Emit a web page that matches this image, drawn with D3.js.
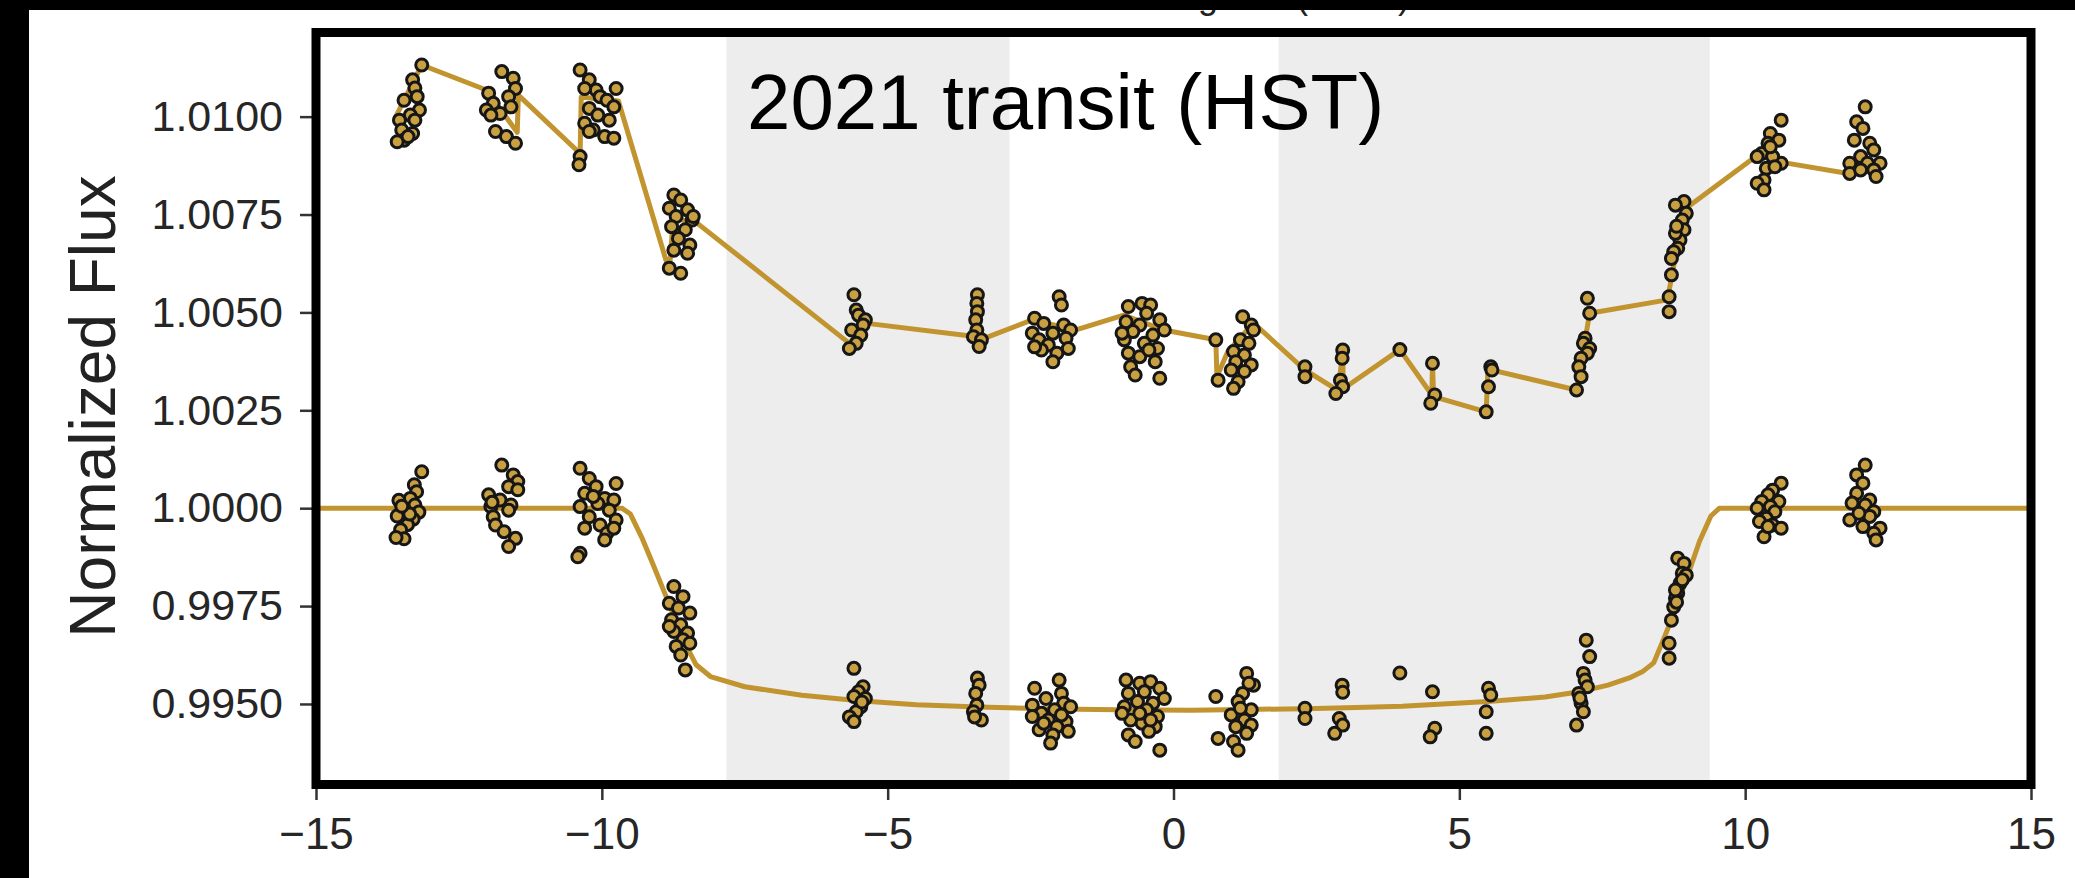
<!DOCTYPE html>
<html>
<head>
<meta charset="utf-8">
<script src="https://cdn.jsdelivr.net/npm/d3@7"></script>
<style>
    body { margin: 0; background: #fff; }
    svg { display: block; font-family: "Liberation Sans", Arial, Helvetica, sans-serif; }
</style>
</head>
<body>
<div id="chart"></div>
<script>

var xTicks = [-15, -10, -5, 0, 5, 10, 15];
var yTicks = [0.9950, 0.9975, 1.0000, 1.0025, 1.0050, 1.0075, 1.0100];

// shaded HST orbit windows (hours)
var bands = [[-7.82, -2.87], [1.84, 9.38]];

// transit model (lower curve)
var modelCurve = [
    [-15, 1.0], [-9.65, 1.0], [-9.5, 0.99985], [-9.3, 0.99925], [-9.1, 0.99855],
    [-8.9, 0.99783], [-8.7, 0.99712], [-8.5, 0.99642], [-8.35, 0.99600], [-8.1, 0.99570],
    [-7.5, 0.99544], [-6.5, 0.99522], [-5.5, 0.99508], [-4.5, 0.99498], [-3.4, 0.99492],
    [-2.0, 0.99487], [-1.0, 0.99485], [0.3, 0.99484], [1.3, 0.99486], [2.3, 0.99488],
    [3.2, 0.99491], [4.0, 0.99494], [5.5, 0.99506], [6.5, 0.99518], [7.1, 0.99531],
    [7.6, 0.99548], [8.0, 0.99568], [8.2, 0.99582], [8.4, 0.99605], [8.6, 0.99675],
    [8.8, 0.99750], [9.0, 0.99830], [9.2, 0.99915], [9.4, 0.99980], [9.55, 1.0], [15, 1.0]
];

// systematics + transit model (upper curve)
var systLine = [
    [-13.62, 1.00995], [-13.15, 1.01132], [-12.02, 1.01068], [-11.48, 1.00960], [-11.46, 1.01055],
    [-10.38, 1.00906], [-10.36, 1.01050], [-9.71, 1.01040], [-8.82, 1.00605], [-8.75, 1.00740],
    [-8.35, 1.00730], [-5.67, 1.00421], [-5.36, 1.00472], [-3.44, 1.00438], [-3.38, 1.00430],
    [-2.47, 1.00481], [-1.72, 1.00455], [-0.87, 1.00493], [-0.17, 1.00455], [0.74, 1.00430],
    [0.76, 1.00336], [0.95, 1.00400], [1.40, 1.00473], [2.30, 1.00353], [2.88, 1.00300],
    [2.96, 1.00400], [2.97, 1.00305], [3.96, 1.00405], [4.52, 1.00289], [4.53, 1.00370],
    [4.55, 1.00285], [5.47, 1.00246], [5.50, 1.00355], [7.05, 1.00302], [7.28, 1.00498],
    [8.64, 1.00532], [8.93, 1.00762], [10.22, 1.00902], [10.70, 1.00882], [11.80, 1.00855],
    [12.30, 1.00880]
];

// raw (offset) data points
var rawPoints = [
    [-13.15,1.01132],[-13.31,1.01094],[-13.27,1.01073],[-13.23,1.01051],[-13.46,1.01042],[-13.19,1.01017],[-13.35,1.01004],
    [-13.54,1.00991],[-13.27,1.00991],[-13.50,1.00966],[-13.31,1.00957],[-13.46,1.00940],[-13.58,1.00936],[-13.39,1.00949],
    [-11.75,1.01115],[-11.55,1.01098],[-11.51,1.01072],[-11.98,1.01060],[-11.63,1.01051],[-11.90,1.01034],[-11.59,1.01025],
    [-12.02,1.01017],[-11.78,1.01008],[-11.86,1.00962],[-11.67,1.00949],[-11.51,1.00932],[-11.94,1.01004],
    [-10.38,1.01119],[-10.22,1.01094],[-10.10,1.01068],[-10.30,1.01072],[-10.03,1.01051],[-9.75,1.01072],[-9.91,1.01042],
    [-9.79,1.01025],[-10.22,1.01021],[-10.07,1.01004],[-10.30,1.00983],[-9.87,1.00991],[-10.15,1.00966],[-9.95,1.00949],
    [-9.79,1.00945],[-10.22,1.00962],[-10.38,1.00898],[-10.40,1.00877],
    [-8.74,1.00800],[-8.62,1.00787],[-8.82,1.00766],[-8.50,1.00762],[-8.70,1.00745],[-8.42,1.00736],[-8.78,1.00719],
    [-8.54,1.00711],[-8.66,1.00689],[-8.46,1.00672],[-8.74,1.00659],[-8.50,1.00651],[-8.82,1.00613],[-8.62,1.00600],[-8.40,1.00745],
    [-5.59,1.00545],[-5.55,1.00506],[-5.51,1.00493],[-5.39,1.00481],[-5.43,1.00468],[-5.63,1.00455],[-5.47,1.00442],[-5.55,1.00421],[-5.67,1.00408],
    [-3.43,1.00545],[-3.44,1.00523],[-3.43,1.00502],[-3.46,1.00481],[-3.44,1.00455],[-3.50,1.00438],[-3.36,1.00430],[-3.40,1.00413],
    [-2.00,1.00540],[-1.96,1.00519],[-2.43,1.00485],[-2.27,1.00472],[-1.92,1.00468],[-1.80,1.00455],[-2.47,1.00447],[-2.11,1.00447],
    [-2.35,1.00430],[-1.88,1.00434],[-2.19,1.00417],[-1.84,1.00408],[-2.04,1.00396],[-2.11,1.00374],[-2.31,1.00404],[-2.43,1.00412],
    [-0.79,1.00515],[-0.55,1.00523],[-0.40,1.00519],[-0.47,1.00498],[-0.24,1.00481],[-0.83,1.00476],[-0.59,1.00468],[-0.16,1.00455],
    [-0.71,1.00451],[-0.36,1.00442],[-0.86,1.00430],[-0.51,1.00421],[-0.28,1.00408],[-0.79,1.00396],[-0.59,1.00387],[-0.32,1.00374],
    [-0.75,1.00361],[-0.24,1.00332],[-0.67,1.00340],[-0.43,1.00404],[-0.90,1.00447],
    [1.21,1.00489],[1.36,1.00468],[0.74,1.00430],[1.17,1.00430],[1.32,1.00421],[1.05,1.00400],[1.24,1.00391],[1.09,1.00374],
    [1.36,1.00366],[1.01,1.00353],[1.24,1.00349],[0.78,1.00327],[1.13,1.00323],[1.05,1.00306],[1.40,1.00455],
    [2.30,1.00361],[2.30,1.00336],
    [2.96,1.00404],[2.95,1.00383],[2.92,1.00327],[2.96,1.00310],[2.84,1.00293],
    [3.96,1.00405],
    [4.53,1.00370],[4.57,1.00289],[4.50,1.00268],
    [5.55,1.00361],[5.57,1.00353],[5.51,1.00310],[5.47,1.00246],
    [7.24,1.00536],[7.28,1.00498],[7.20,1.00434],[7.17,1.00421],[7.28,1.00408],[7.24,1.00396],[7.13,1.00383],[7.09,1.00361],
    [7.13,1.00336],[7.05,1.00302],
    [8.93,1.00783],[8.78,1.00774],[8.97,1.00753],[8.90,1.00736],[8.93,1.00711],[8.86,1.00685],[8.82,1.00664],[8.75,1.00655],
    [8.71,1.00638],[8.71,1.00596],[8.67,1.00540],[8.67,1.00502],[8.78,1.00702],[8.80,1.00720],
    [10.63,1.00991],[10.44,1.00957],[10.59,1.00940],[10.40,1.00932],[10.29,1.00906],[10.63,1.00881],[10.48,1.00898],[10.21,1.00898],
    [10.37,1.00868],[10.52,1.00872],[10.33,1.00838],[10.21,1.00830],[10.33,1.00813],[10.44,1.00923],
    [12.10,1.01025],[11.95,1.00987],[12.06,1.00970],[11.91,1.00940],[12.18,1.00932],[12.25,1.00915],[12.02,1.00898],[11.83,1.00881],
    [12.14,1.00881],[12.36,1.00881],[12.25,1.00864],[11.83,1.00855],[12.02,1.00864],[12.29,1.00847]
];

// detrended data points
var detPoints = [
    [-13.15,1.00093],[-13.28,1.00060],[-13.24,1.00042],[-13.35,1.00025],[-13.55,1.00020],[-13.27,1.00008],[-13.45,0.99996],[-13.20,0.99990],
    [-13.58,0.99980],[-13.30,0.99972],[-13.40,0.99958],[-13.52,0.99945],[-13.46,0.99922],[-13.60,0.99925],[-13.36,0.99985],[-13.50,1.00005],
    [-11.75,1.00110],[-11.55,1.00085],[-11.47,1.00068],[-11.63,1.00055],[-11.98,1.00034],[-11.47,1.00047],[-11.78,1.00021],[-11.94,1.00004],
    [-11.59,1.00008],[-11.90,0.99978],[-11.63,0.99995],[-11.86,0.99957],[-11.71,0.99940],[-11.51,0.99923],[-11.63,0.99902],[-11.92,1.00015],
    [-10.38,1.00102],[-10.22,1.00076],[-10.10,1.00055],[-10.30,1.00038],[-9.95,1.00025],[-10.07,1.00012],[-9.75,1.00063],[-9.79,1.00021],
    [-10.38,1.00004],[-9.87,0.99995],[-10.22,0.99978],[-9.75,0.99970],[-10.03,0.99957],[-10.30,0.99949],[-9.91,0.99936],[-9.79,0.99949],
    [-9.95,0.99919],[-10.38,0.99885],[-10.42,0.99876],[-10.15,1.00030],
    [-8.74,0.99800],[-8.58,0.99774],[-8.82,0.99757],[-8.66,0.99745],[-8.46,0.99732],[-8.78,0.99715],[-8.62,0.99702],[-8.74,0.99685],
    [-8.50,0.99681],[-8.58,0.99664],[-8.70,0.99647],[-8.46,0.99655],[-8.62,0.99625],[-8.54,0.99587],[-8.82,0.99698],
    [-5.59,0.99591],[-5.43,0.99544],[-5.51,0.99531],[-5.39,0.99514],[-5.59,0.99519],[-5.47,0.99493],[-5.55,0.99480],[-5.67,0.99467],
    [-5.59,0.99455],[-5.45,0.99505],
    [-3.43,0.99566],[-3.40,0.99548],[-3.46,0.99527],[-3.44,0.99497],[-3.50,0.99480],[-3.36,0.99459],[-3.48,0.99467],
    [-2.43,0.99540],[-2.00,0.99561],[-1.96,0.99527],[-2.23,0.99514],[-1.92,0.99502],[-2.47,0.99497],[-2.08,0.99485],[-1.80,0.99493],
    [-2.31,0.99476],[-2.19,0.99459],[-1.88,0.99455],[-2.04,0.99442],[-2.35,0.99434],[-2.11,0.99421],[-1.84,0.99430],[-2.15,0.99400],
    [-2.27,0.99451],[-2.47,0.99468],[-1.96,0.99472],
    [-0.83,0.99561],[-0.59,0.99553],[-0.40,0.99557],[-0.24,0.99540],[-0.79,0.99527],[-0.51,0.99531],[-0.16,0.99514],[-0.63,0.99506],
    [-0.36,0.99502],[-0.86,0.99493],[-0.47,0.99485],[-0.28,0.99468],[-0.75,0.99459],[-0.55,0.99451],[-0.32,0.99442],[-0.43,0.99430],
    [-0.79,0.99421],[-0.67,0.99404],[-0.24,0.99382],[-0.90,0.99476],[-0.40,0.99459],[-0.59,0.99476],
    [0.74,0.99519],[1.28,0.99578],[1.40,0.99548],[1.21,0.99527],[1.13,0.99506],[1.36,0.99485],[1.01,0.99472],[1.24,0.99459],
    [1.09,0.99442],[1.36,0.99446],[0.78,0.99412],[1.05,0.99404],[1.13,0.99382],[1.28,0.99425],[1.17,0.99489],[1.32,0.99553],
    [2.30,0.99489],[2.30,0.99463],
    [2.95,0.99548],[2.96,0.99530],[2.90,0.99463],[2.96,0.99446],[2.82,0.99425],
    [3.96,0.99579],
    [4.53,0.99531],[4.57,0.99438],[4.49,0.99416],
    [5.51,0.99540],[5.55,0.99523],[5.47,0.99480],[5.47,0.99425],
    [7.22,0.99663],[7.28,0.99621],[7.17,0.99578],[7.20,0.99561],[7.24,0.99544],[7.09,0.99527],[7.13,0.99502],[7.17,0.99480],
    [7.05,0.99446],[7.11,0.99515],
    [8.82,0.99872],[8.93,0.99859],[8.90,0.99834],[8.97,0.99829],[8.86,0.99808],[8.82,0.99783],[8.78,0.99770],[8.75,0.99748],
    [8.71,0.99714],[8.67,0.99655],[8.67,0.99617],[8.78,0.99791],[8.90,0.99817],[8.80,0.99760],
    [10.63,1.00064],[10.48,1.00046],[10.40,1.00034],[10.29,1.00017],[10.59,1.00017],[10.44,1.00004],[10.21,1.00000],[10.52,0.99991],
    [10.37,0.99974],[10.25,0.99966],[10.48,0.99957],[10.63,0.99949],[10.33,0.99927],[10.40,0.99953],
    [12.10,1.00110],[11.95,1.00085],[12.06,1.00064],[11.95,1.00038],[12.18,1.00021],[11.87,1.00013],[12.10,1.00008],[12.25,0.99991],
    [11.83,0.99970],[12.06,0.99953],[12.36,0.99949],[12.25,0.99936],[12.29,0.99919],[12.18,0.99979],[11.99,0.99987]
];

var width = 2075;
var height = 878;
var lineColor = "#c1942f";
var dotColor = "#c8a042";

var svg = d3.select("#chart").append("svg")
    .attr("width", width)
    .attr("height", height);

var x = d3.scaleLinear().domain([-15, 15]).range([316, 2031]);
var y = d3.scaleLinear().domain([0.992943, 1.012149]).range([784.5, 32.5]);

// grey orbit bands
svg.selectAll("rect.band")
    .data(bands)
    .enter().append("rect")
    .attr("class", "band")
    .attr("x", function (d) { return x(d[0]); })
    .attr("width", function (d) { return x(d[1]) - x(d[0]); })
    .attr("y", y.range()[1])
    .attr("height", y.range()[0] - y.range()[1])
    .style("fill", "#ededed");

var line = d3.line()
    .x(function (d) { return x(d[0]); })
    .y(function (d) { return y(d[1]); });

svg.append("path")
    .datum(modelCurve)
    .attr("d", line)
    .style("fill", "none")
    .style("stroke", lineColor)
    .style("stroke-width", 5)
    .style("stroke-linejoin", "round");

svg.append("path")
    .datum(systLine)
    .attr("d", line)
    .style("fill", "none")
    .style("stroke", lineColor)
    .style("stroke-width", 5)
    .style("stroke-linejoin", "round");

function drawDots(data) {
    svg.append("g").selectAll("circle")
        .data(data)
        .enter().append("circle")
        .attr("cx", function (d) { return x(d[0]); })
        .attr("cy", function (d) { return y(d[1]); })
        .attr("r", 6)
        .style("fill", dotColor)
        .style("stroke", "#161616")
        .style("stroke-width", 3);
}
drawDots(rawPoints);
drawDots(detPoints);

// axes
var yAxis = d3.axisLeft(y)
    .tickValues(yTicks)
    .tickFormat(d3.format(".4f"))
    .tickSize(16)
    .tickPadding(17);

var xAxis = d3.axisBottom(x)
    .tickValues(xTicks)
    .tickFormat(d3.format("d"))
    .tickSize(15.5)
    .tickPadding(18);

var gy = svg.append("g").attr("transform", "translate(" + x(-15) + ",0)").call(yAxis);
var gx = svg.append("g").attr("transform", "translate(0," + y.range()[0] + ")").call(xAxis);

[gx, gy].forEach(function (g) {
    g.select(".domain").remove();
    g.selectAll(".tick line").style("stroke", "#333").style("stroke-width", 2.5);
    g.selectAll(".tick text")
        .style("font-family", "'Liberation Sans', Arial, Helvetica, sans-serif")
        .style("fill", "#262626");
});
gy.selectAll(".tick text").style("font-size", "43px");
gx.selectAll(".tick text").style("font-size", "44px");

// frame
svg.append("rect")
    .attr("x", x(-15))
    .attr("y", y.range()[1])
    .attr("width", x(15) - x(-15))
    .attr("height", y.range()[0] - y.range()[1])
    .style("fill", "none")
    .style("stroke", "#000")
    .style("stroke-width", 9);

svg.append("text")
    .attr("transform", "translate(115,406.5) rotate(-90)")
    .attr("text-anchor", "middle")
    .style("font-size", "64px")
    .style("fill", "#222")
    .text("Normalized Flux");

svg.append("text")
    .attr("x", 747)
    .attr("y", 129)
    .style("font-size", "78px")
    .style("fill", "#000")
    .text("2021 transit (HST)");

// label of the panel above, mostly cut off by the crop
svg.append("text")
    .attr("x", 1410)
    .attr("y", 8)
    .attr("text-anchor", "end")
    .style("font-size", "36px")
    .style("fill", "#222")
    .text("Time Since Ingress (hours)");

// black crop borders
svg.append("rect").attr("x", 0).attr("y", 0).attr("width", width).attr("height", 10).style("fill", "#000");
svg.append("rect").attr("x", 0).attr("y", 0).attr("width", 29).attr("height", height).style("fill", "#000");

</script>
</body>
</html>
